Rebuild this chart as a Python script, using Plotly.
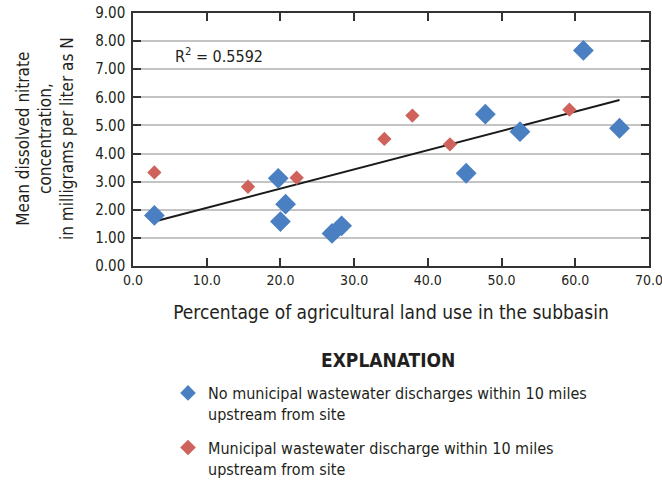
import numpy as np
import plotly.graph_objects as go

# Sites with no municipal wastewater discharge within 10 miles upstream
ag_no_ww = [2.9, 19.7, 20.7, 20.0, 27.0, 28.3, 45.2, 47.8, 52.5, 61.1, 66.0]
no3_no_ww = [1.80, 3.12, 2.20, 1.58, 1.16, 1.43, 3.30, 5.40, 4.78, 7.67, 4.90]

# Sites with a municipal wastewater discharge within 10 miles upstream
ag_ww = [2.9, 15.6, 22.2, 34.1, 37.9, 43.0, 59.2]
no3_ww = [3.33, 2.82, 3.14, 4.52, 5.35, 4.33, 5.56]

x_ticks = [0, 10, 20, 30, 40, 50, 60, 70]
y_ticks = [0, 1, 2, 3, 4, 5, 6, 7, 8, 9]
r_squared_label = "0.5592"

FONT = "DejaVu Sans Condensed, Liberation Sans Narrow, Arial Narrow, sans-serif"
TEXT = "#231f20"
BLUE = "#4a7fc2"
RED = "#cf625b"

W, H = 662, 482
ML, MR, MT, MB = 133, 13, 13, 216
PW, PH = W - ML - MR, H - MT - MB


def px_to_paper(px, py):
    """Convert page pixel coordinates to paper coordinates."""
    return (px - ML) / PW, (H - MB - py) / PH


# Linear trend fitted to all sites
all_x = np.array(ag_no_ww + ag_ww)
all_y = np.array(no3_no_ww + no3_ww)
slope, intercept = np.polyfit(all_x, all_y, 1)
trend_x = np.array([all_x.min(), all_x.max()])
trend_y = slope * trend_x + intercept

fig = go.Figure()
fig.add_trace(go.Scatter(
    x=trend_x, y=trend_y, mode="lines",
    line=dict(color="#1a1a1a", width=2), showlegend=False, hoverinfo="skip",
))
fig.add_trace(go.Scatter(
    x=ag_no_ww, y=no3_no_ww, mode="markers", legendgroup="no_ww",
    marker=dict(symbol="diamond", size=16, color=BLUE),
    name="No municipal wastewater discharges within 10 miles<br>upstream from site",
))
fig.add_trace(go.Scatter(
    x=ag_ww, y=no3_ww, mode="markers", legendgroup="ww",
    marker=dict(symbol="diamond", size=11, color=RED),
    name="Municipal wastewater discharge within 10 miles<br>upstream from site",
))

fig.update_xaxes(
    range=[0, 70], tickvals=x_ticks, ticktext=[f"{v:.1f}" for v in x_ticks],
    showgrid=False, zeroline=False, automargin=False,
    ticklabeloverflow="allow",
    showline=True, linecolor="#333333", linewidth=1.5, mirror="all",
    ticks="inside", ticklen=8, tickcolor="#333333", tickwidth=1.5,
    tickfont=dict(family=FONT, size=14, color=TEXT),
    title=dict(text="Percentage of agricultural land use in the subbasin",
               font=dict(family=FONT, size=19, color=TEXT), standoff=19),
)
fig.update_yaxes(
    range=[0, 9], tickvals=y_ticks, ticktext=[f"{v:.2f}" for v in y_ticks],
    showgrid=True, gridcolor="#c4c4c4", gridwidth=1.5, zeroline=False,
    automargin=False, ticklabelstandoff=3, ticklabeloverflow="allow",
    showline=True, linecolor="#333333", linewidth=1.5, mirror="all",
    ticks="inside", ticklen=8, tickcolor="#333333", tickwidth=1.5,
    tickfont=dict(family=FONT, size=15, color=TEXT),
)

# Y-axis title, three centred lines
tx, ty = px_to_paper(45, 139)
fig.add_annotation(
    x=tx, y=ty, xref="paper", yref="paper", showarrow=False,
    xanchor="center", yanchor="middle", textangle=-90,
    text="Mean dissolved nitrate<br>concentration,<br>in milligrams per liter as N",
    font=dict(family=FONT, size=17, color=TEXT),
)

fig.add_annotation(
    x=5.4, y=7.5, xref="x", yref="y", xanchor="left", yanchor="middle",
    text=f"R<sup>2</sup> = {r_squared_label}", showarrow=False,
    font=dict(family=FONT, size=16, color=TEXT),
)
ex, ey = px_to_paper(388, 360)
fig.add_annotation(
    x=ex, y=ey, xref="paper", yref="paper", showarrow=False,
    xanchor="center", yanchor="middle",
    text="<b>EXPLANATION</b>", font=dict(family=FONT, size=19, color=TEXT),
)

lx, ly = px_to_paper(168, 376)
fig.update_layout(
    width=W, height=H,
    margin=dict(l=ML, r=MR, t=MT, b=MB, autoexpand=False),
    paper_bgcolor="white", plot_bgcolor="white",
    showlegend=True,
    legend=dict(
        x=lx, y=ly, xanchor="left", yanchor="top",
        valign="top", tracegroupgap=10,
        font=dict(family=FONT, size=16, color=TEXT),
        itemsizing="constant",
    ),
)

fig.write_html("out.html")
